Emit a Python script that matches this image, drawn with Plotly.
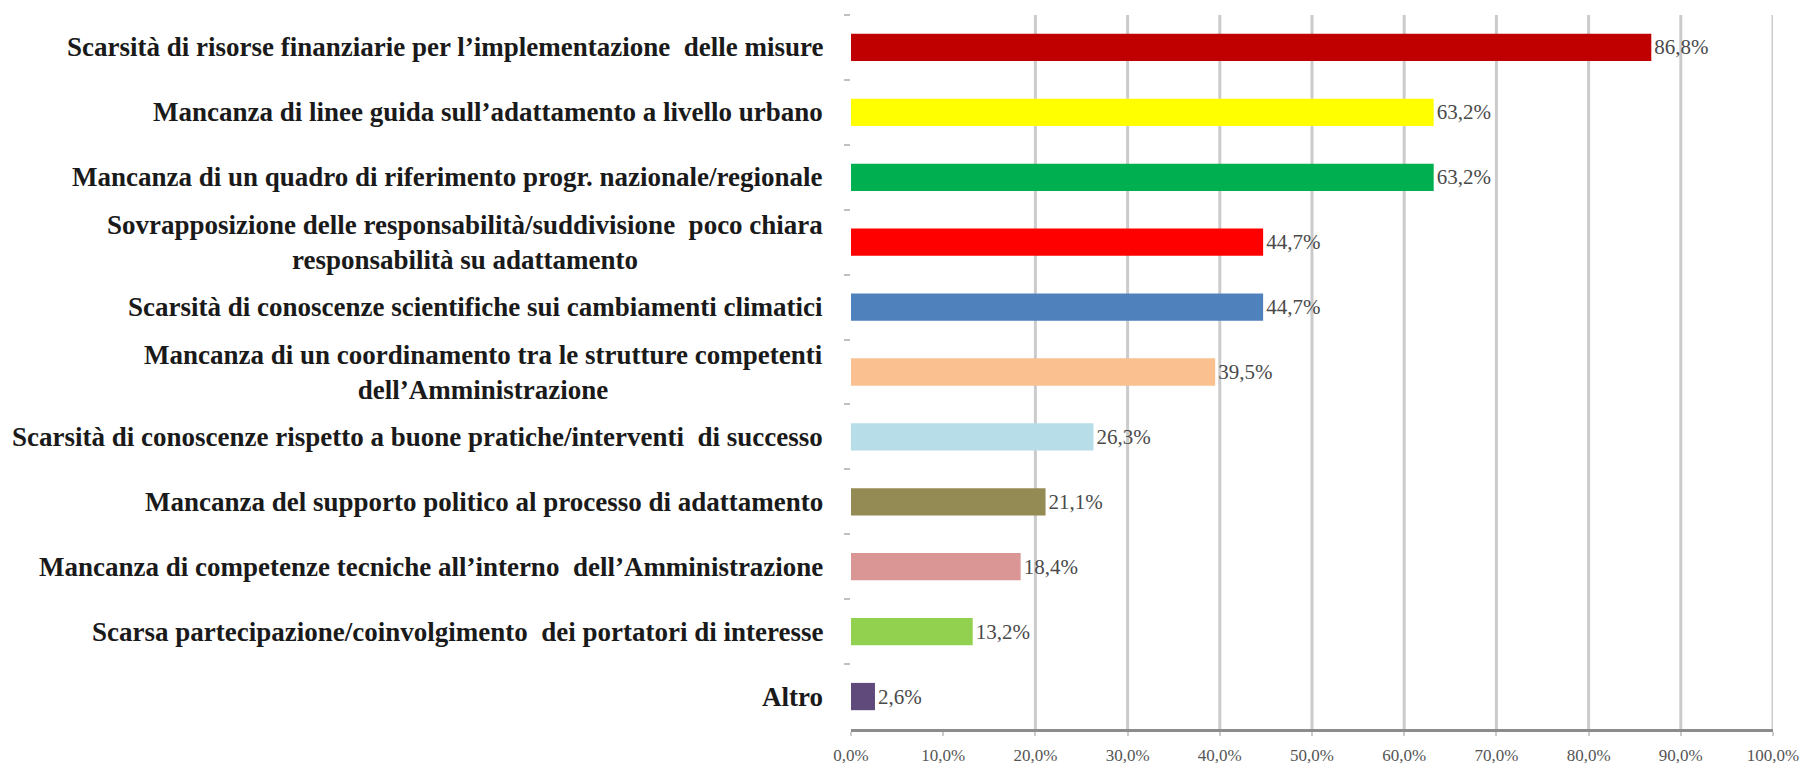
import plotly.graph_objects as go

categories = [
    "Scarsità di risorse finanziarie per l’implementazione  delle misure",
    "Mancanza di linee guida sull’adattamento a livello urbano",
    "Mancanza di un quadro di riferimento progr. nazionale/regionale",
    "Sovrapposizione delle responsabilità/suddivisione  poco chiara<br>responsabilità su adattamento",
    "Scarsità di conoscenze scientifiche sui cambiamenti climatici",
    "Mancanza di un coordinamento tra le strutture competenti<br>dell’Amministrazione",
    "Scarsità di conoscenze rispetto a buone pratiche/interventi  di successo",
    "Mancanza del supporto politico al processo di adattamento",
    "Mancanza di competenze tecniche all’interno  dell’Amministrazione",
    "Scarsa partecipazione/coinvolgimento  dei portatori di interesse",
    "Altro",
]
values = [0.868, 0.632, 0.632, 0.447, 0.447, 0.395, 0.263, 0.211, 0.184, 0.132, 0.026]
colors = ["#C00000", "#FFFF00", "#00B050", "#FF0000", "#4F81BD", "#FAC090",
          "#B7DEE8", "#948A54", "#D99694", "#92D050", "#604A7B"]
x_ticks = [0.0, 0.1, 0.2, 0.3, 0.4, 0.5, 0.6, 0.7, 0.8, 0.9, 1.0]
grid_at = [0.2, 0.3, 0.4, 0.5, 0.6, 0.7, 0.8, 0.9, 1.0]

fig = go.Figure()
fig.add_trace(go.Bar(
    x=values, y=categories, orientation="h",
    marker=dict(color=colors, line=dict(width=0)),
    text=values, texttemplate="%{x:.1%}", textposition="outside",
    textfont=dict(family="Liberation Serif", size=21, color="#4a4a4a"),
    cliponaxis=False, width=0.42,
))

for g in grid_at:
    fig.add_shape(type="line", xref="x", yref="paper", x0=g, x1=g, y0=0, y1=1,
                  line=dict(color="#cbcbcb", width=3), layer="below")

for c in categories:
    fig.add_annotation(
        x=0, xref="paper", y=c, yref="y", xanchor="right", xshift=-26,
        text=c, showarrow=False, align="center",
        font=dict(family="Liberation Serif", size=27, color="#1a1a1a", weight="bold"),
    )

fig.update_layout(
    width=1809, height=766,
    margin=dict(l=843, r=44, t=7, b=45),
    plot_bgcolor="white", paper_bgcolor="white",
    separators=",.",
    showlegend=False,
    font=dict(family="Liberation Serif"),
)
fig.update_xaxes(
    range=[0, 1.0], tickvals=x_ticks, tickformat=".1%",
    showgrid=False, zeroline=False, automargin=False,
    showline=True, linecolor="#8c8c8c", linewidth=3,
    ticks="outside", ticklen=4, tickcolor="#cbcbcb", tickwidth=2,
    tickfont=dict(family="Liberation Serif", size=17, color="#555555"),
    ticklabelstandoff=5,
)
fig.update_yaxes(
    categoryorder="array", categoryarray=categories, autorange="reversed",
    showgrid=False, zeroline=False, showline=False, automargin=False,
    showticklabels=False,
    ticks="outside", tickson="boundaries", ticklen=6, tickcolor="#c0c0c0", tickwidth=2,
)

fig.write_html("out.html")
